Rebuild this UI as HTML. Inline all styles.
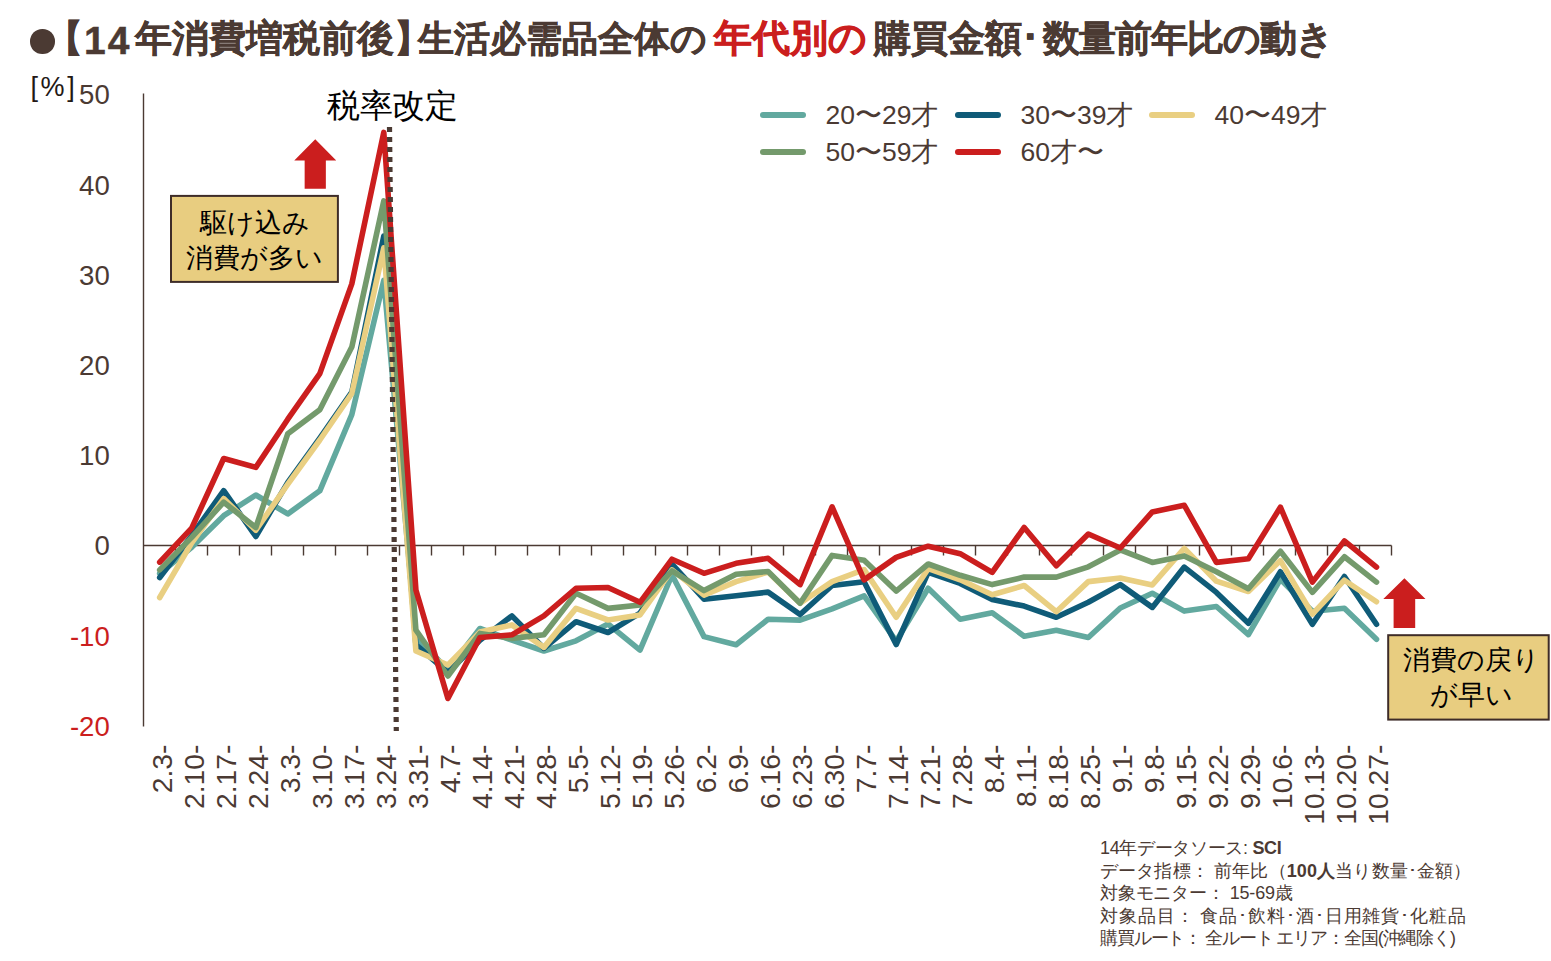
<!DOCTYPE html>
<html><head><meta charset="utf-8"><style>
html,body{margin:0;padding:0;background:#fff;}
body{width:1551px;height:961px;position:relative;overflow:hidden;font-family:"Liberation Sans",sans-serif;}
svg{position:absolute;left:0;top:0;}
svg text{font-family:"Liberation Sans",sans-serif;}
.t{position:absolute;white-space:nowrap;}
.tt{position:absolute;white-space:nowrap;font-size:37px;font-weight:bold;color:#4B3A33;line-height:50px;-webkit-text-stroke:0.45px #4B3A33;}
.tt.r{color:#CB1E1E;font-size:38.3px;-webkit-text-stroke:0.6px #CB1E1E;}
.box{position:absolute;color:#000;font-size:27px;line-height:35px;text-align:center;}
.nt{position:absolute;white-space:nowrap;left:1100px;font-size:18px;line-height:22.5px;color:#4B3A33;}
</style></head><body>
<svg width="1551" height="961" viewBox="0 0 1551 961">
<line x1="143.5" y1="93.5" x2="143.5" y2="726.5" stroke="#4B3A33" stroke-width="1.4"/>
<line x1="143.5" y1="545.5" x2="1391.5" y2="545.5" stroke="#4B3A33" stroke-width="1.4"/>
<path d="M175.5,545.5 V555.5M207.5,545.5 V555.5M239.5,545.5 V555.5M271.5,545.5 V555.5M303.5,545.5 V555.5M335.5,545.5 V555.5M367.5,545.5 V555.5M399.5,545.5 V555.5M431.5,545.5 V555.5M463.5,545.5 V555.5M495.5,545.5 V555.5M527.5,545.5 V555.5M559.5,545.5 V555.5M591.5,545.5 V555.5M623.5,545.5 V555.5M655.5,545.5 V555.5M687.5,545.5 V555.5M719.5,545.5 V555.5M751.5,545.5 V555.5M783.5,545.5 V555.5M815.5,545.5 V555.5M847.5,545.5 V555.5M879.5,545.5 V555.5M911.5,545.5 V555.5M943.5,545.5 V555.5M975.5,545.5 V555.5M1007.5,545.5 V555.5M1039.5,545.5 V555.5M1071.5,545.5 V555.5M1103.5,545.5 V555.5M1135.5,545.5 V555.5M1167.5,545.5 V555.5M1199.5,545.5 V555.5M1231.5,545.5 V555.5M1263.5,545.5 V555.5M1295.5,545.5 V555.5M1327.5,545.5 V555.5M1359.5,545.5 V555.5M1391.5,545.5 V555.5" stroke="#4B3A33" stroke-width="1.4" fill="none"/>
<path d="M159.7,573.5 L191.7,547.3 L223.7,515.7 L255.8,495.0 L287.8,513.9 L319.8,490.8 L351.8,414.7 L383.8,280.3 L415.9,636.6 L447.9,670.0 L479.9,628.5 L511.9,640.2 L543.9,651.0 L576.0,640.8 L608.0,624.0 L640.0,650.1 L672.0,575.0 L704.0,636.6 L736.1,644.7 L768.1,619.2 L800.1,620.1 L832.1,608.9 L864.1,595.8 L896.2,641.1 L928.2,588.3 L960.2,619.2 L992.2,612.7 L1024.2,636.2 L1056.3,630.3 L1088.3,637.5 L1120.3,608.0 L1152.3,593.3 L1184.3,611.1 L1216.4,606.5 L1248.4,634.6 L1280.4,579.3 L1312.4,611.3 L1344.4,608.3 L1376.5,639.3" stroke="#62A99F" stroke-width="5.6" fill="none" stroke-linejoin="round" stroke-linecap="round"/>
<path d="M159.7,577.5 L191.7,535.6 L223.7,490.7 L255.8,536.5 L287.8,482.4 L319.8,438.2 L351.8,392.2 L383.8,236.1 L415.9,644.7 L447.9,672.7 L479.9,640.2 L511.9,615.9 L543.9,648.3 L576.0,621.7 L608.0,632.5 L640.0,613.1 L672.0,564.2 L704.0,599.2 L736.1,595.8 L768.1,592.1 L800.1,614.5 L832.1,585.5 L864.1,581.8 L896.2,644.5 L928.2,572.4 L960.2,583.4 L992.2,599.6 L1024.2,606.1 L1056.3,617.3 L1088.3,602.3 L1120.3,584.6 L1152.3,607.4 L1184.3,567.1 L1216.4,592.4 L1248.4,623.3 L1280.4,571.8 L1312.4,624.3 L1344.4,576.5 L1376.5,624.3" stroke="#0F5B78" stroke-width="5.6" fill="none" stroke-linejoin="round" stroke-linecap="round"/>
<path d="M159.7,597.5 L191.7,542.8 L223.7,498.6 L255.8,530.2 L287.8,484.2 L319.8,440.0 L351.8,393.5 L383.8,247.8 L415.9,651.0 L447.9,665.0 L479.9,632.1 L511.9,624.9 L543.9,647.4 L576.0,608.4 L608.0,620.0 L640.0,615.0 L672.0,569.9 L704.0,595.1 L736.1,581.6 L768.1,572.1 L800.1,603.2 L832.1,581.6 L864.1,569.6 L896.2,617.3 L928.2,568.7 L960.2,579.8 L992.2,594.8 L1024.2,585.5 L1056.3,611.7 L1088.3,581.6 L1120.3,578.0 L1152.3,584.9 L1184.3,548.4 L1216.4,581.2 L1248.4,591.5 L1280.4,560.6 L1312.4,614.1 L1344.4,580.2 L1376.5,601.8" stroke="#E9CF82" stroke-width="5.6" fill="none" stroke-linejoin="round" stroke-linecap="round"/>
<path d="M159.7,569.9 L191.7,537.4 L223.7,502.2 L255.8,527.5 L287.8,433.7 L319.8,409.7 L351.8,347.1 L383.8,200.9 L415.9,630.0 L447.9,676.0 L479.9,633.4 L511.9,638.4 L543.9,634.8 L576.0,593.3 L608.0,608.4 L640.0,605.0 L672.0,570.8 L704.0,590.6 L736.1,574.2 L768.1,571.5 L800.1,603.2 L832.1,555.4 L864.1,560.2 L896.2,591.1 L928.2,564.0 L960.2,575.3 L992.2,584.6 L1024.2,577.1 L1056.3,577.1 L1088.3,566.8 L1120.3,549.9 L1152.3,562.4 L1184.3,555.9 L1216.4,571.8 L1248.4,588.7 L1280.4,551.2 L1312.4,592.4 L1344.4,556.8 L1376.5,582.1" stroke="#749A6C" stroke-width="5.6" fill="none" stroke-linejoin="round" stroke-linecap="round"/>
<path d="M159.7,562.1 L191.7,528.2 L223.7,458.5 L255.8,467.4 L287.8,419.2 L319.8,373.6 L351.8,283.9 L383.8,132.4 L415.9,590.0 L447.9,698.5 L479.9,637.5 L511.9,634.8 L543.9,615.9 L576.0,588.3 L608.0,587.5 L640.0,602.3 L672.0,559.2 L704.0,573.3 L736.1,563.3 L768.1,558.3 L800.1,584.6 L832.1,506.9 L864.1,579.9 L896.2,557.4 L928.2,546.2 L960.2,553.7 L992.2,572.4 L1024.2,527.5 L1056.3,565.8 L1088.3,534.0 L1120.3,548.0 L1152.3,511.9 L1184.3,505.3 L1216.4,562.4 L1248.4,558.7 L1280.4,507.2 L1312.4,582.1 L1344.4,540.9 L1376.5,567.1" stroke="#CB1E1E" stroke-width="5.6" fill="none" stroke-linejoin="round" stroke-linecap="round"/>
<line x1="389.5" y1="127" x2="396.3" y2="731" stroke="#4B3A33" stroke-width="5.2" stroke-dasharray="5 5"/>
<path d="M315.25,139.25 L336.25,160.5 L325.85,160.5 L325.85,188.75 L304.65,188.75 L304.65,160.5 L294.25,160.5 Z" fill="#CB1E1E"/>
<path d="M1404.4,578.3 L1425.5,598.9 L1415.2,598.9 L1415.2,628 L1393.6000000000001,628 L1393.6000000000001,598.9 L1383.3000000000002,598.9 Z" fill="#CB1E1E"/>
<rect x="171" y="195.9" width="166.9" height="86" fill="#E8CD80" stroke="#3E2C28" stroke-width="2"/>
<rect x="1388.2" y="635.2" width="160.5" height="84.4" fill="#E8CD80" stroke="#3E2C28" stroke-width="2"/>
<line x1="763" y1="115" x2="803" y2="115" stroke="#62A99F" stroke-width="6" stroke-linecap="round"/>
<line x1="958" y1="115" x2="998" y2="115" stroke="#0F5B78" stroke-width="6" stroke-linecap="round"/>
<line x1="1152" y1="115" x2="1192" y2="115" stroke="#E9CF82" stroke-width="6" stroke-linecap="round"/>
<line x1="763" y1="152" x2="803" y2="152" stroke="#749A6C" stroke-width="6" stroke-linecap="round"/>
<line x1="958" y1="152" x2="998" y2="152" stroke="#CB1E1E" stroke-width="6" stroke-linecap="round"/>
<text x="109.8" y="735.7" text-anchor="end" font-size="27.6" fill="#CB1E1E">-20</text>
<text x="109.8" y="645.5" text-anchor="end" font-size="27.6" fill="#CB1E1E">-10</text>
<text x="109.8" y="555.3" text-anchor="end" font-size="27.6" fill="#4B3A33">0</text>
<text x="109.8" y="465.1" text-anchor="end" font-size="27.6" fill="#4B3A33">10</text>
<text x="109.8" y="374.9" text-anchor="end" font-size="27.6" fill="#4B3A33">20</text>
<text x="109.8" y="284.7" text-anchor="end" font-size="27.6" fill="#4B3A33">30</text>
<text x="109.8" y="194.5" text-anchor="end" font-size="27.6" fill="#4B3A33">40</text>
<text x="109.8" y="104.3" text-anchor="end" font-size="27.6" fill="#4B3A33">50</text>
<text x="30.5" y="96" font-size="27" letter-spacing="2.6" fill="#231815">[%]</text>
<text transform="translate(171.5,744.5) rotate(-90)" text-anchor="end" font-size="28.3" fill="#4B3A33">2.3-</text>
<text transform="translate(203.5,744.5) rotate(-90)" text-anchor="end" font-size="28.3" fill="#4B3A33">2.10-</text>
<text transform="translate(235.5,744.5) rotate(-90)" text-anchor="end" font-size="28.3" fill="#4B3A33">2.17-</text>
<text transform="translate(267.6,744.5) rotate(-90)" text-anchor="end" font-size="28.3" fill="#4B3A33">2.24-</text>
<text transform="translate(299.6,744.5) rotate(-90)" text-anchor="end" font-size="28.3" fill="#4B3A33">3.3-</text>
<text transform="translate(331.6,744.5) rotate(-90)" text-anchor="end" font-size="28.3" fill="#4B3A33">3.10-</text>
<text transform="translate(363.6,744.5) rotate(-90)" text-anchor="end" font-size="28.3" fill="#4B3A33">3.17-</text>
<text transform="translate(395.6,744.5) rotate(-90)" text-anchor="end" font-size="28.3" fill="#4B3A33">3.24-</text>
<text transform="translate(427.7,744.5) rotate(-90)" text-anchor="end" font-size="28.3" fill="#4B3A33">3.31-</text>
<text transform="translate(459.7,744.5) rotate(-90)" text-anchor="end" font-size="28.3" fill="#4B3A33">4.7-</text>
<text transform="translate(491.7,744.5) rotate(-90)" text-anchor="end" font-size="28.3" fill="#4B3A33">4.14-</text>
<text transform="translate(523.7,744.5) rotate(-90)" text-anchor="end" font-size="28.3" fill="#4B3A33">4.21-</text>
<text transform="translate(555.7,744.5) rotate(-90)" text-anchor="end" font-size="28.3" fill="#4B3A33">4.28-</text>
<text transform="translate(587.8,744.5) rotate(-90)" text-anchor="end" font-size="28.3" fill="#4B3A33">5.5-</text>
<text transform="translate(619.8,744.5) rotate(-90)" text-anchor="end" font-size="28.3" fill="#4B3A33">5.12-</text>
<text transform="translate(651.8,744.5) rotate(-90)" text-anchor="end" font-size="28.3" fill="#4B3A33">5.19-</text>
<text transform="translate(683.8,744.5) rotate(-90)" text-anchor="end" font-size="28.3" fill="#4B3A33">5.26-</text>
<text transform="translate(715.8,744.5) rotate(-90)" text-anchor="end" font-size="28.3" fill="#4B3A33">6.2-</text>
<text transform="translate(747.9,744.5) rotate(-90)" text-anchor="end" font-size="28.3" fill="#4B3A33">6.9-</text>
<text transform="translate(779.9,744.5) rotate(-90)" text-anchor="end" font-size="28.3" fill="#4B3A33">6.16-</text>
<text transform="translate(811.9,744.5) rotate(-90)" text-anchor="end" font-size="28.3" fill="#4B3A33">6.23-</text>
<text transform="translate(843.9,744.5) rotate(-90)" text-anchor="end" font-size="28.3" fill="#4B3A33">6.30-</text>
<text transform="translate(875.9,744.5) rotate(-90)" text-anchor="end" font-size="28.3" fill="#4B3A33">7.7-</text>
<text transform="translate(908.0,744.5) rotate(-90)" text-anchor="end" font-size="28.3" fill="#4B3A33">7.14-</text>
<text transform="translate(940.0,744.5) rotate(-90)" text-anchor="end" font-size="28.3" fill="#4B3A33">7.21-</text>
<text transform="translate(972.0,744.5) rotate(-90)" text-anchor="end" font-size="28.3" fill="#4B3A33">7.28-</text>
<text transform="translate(1004.0,744.5) rotate(-90)" text-anchor="end" font-size="28.3" fill="#4B3A33">8.4-</text>
<text transform="translate(1036.0,744.5) rotate(-90)" text-anchor="end" font-size="28.3" fill="#4B3A33">8.11-</text>
<text transform="translate(1068.1,744.5) rotate(-90)" text-anchor="end" font-size="28.3" fill="#4B3A33">8.18-</text>
<text transform="translate(1100.1,744.5) rotate(-90)" text-anchor="end" font-size="28.3" fill="#4B3A33">8.25-</text>
<text transform="translate(1132.1,744.5) rotate(-90)" text-anchor="end" font-size="28.3" fill="#4B3A33">9.1-</text>
<text transform="translate(1164.1,744.5) rotate(-90)" text-anchor="end" font-size="28.3" fill="#4B3A33">9.8-</text>
<text transform="translate(1196.1,744.5) rotate(-90)" text-anchor="end" font-size="28.3" fill="#4B3A33">9.15-</text>
<text transform="translate(1228.2,744.5) rotate(-90)" text-anchor="end" font-size="28.3" fill="#4B3A33">9.22-</text>
<text transform="translate(1260.2,744.5) rotate(-90)" text-anchor="end" font-size="28.3" fill="#4B3A33">9.29-</text>
<text transform="translate(1292.2,744.5) rotate(-90)" text-anchor="end" font-size="28.3" fill="#4B3A33">10.6-</text>
<text transform="translate(1324.2,744.5) rotate(-90)" text-anchor="end" font-size="28.3" fill="#4B3A33">10.13-</text>
<text transform="translate(1356.2,744.5) rotate(-90)" text-anchor="end" font-size="28.3" fill="#4B3A33">10.20-</text>
<text transform="translate(1388.3,744.5) rotate(-90)" text-anchor="end" font-size="28.3" fill="#4B3A33">10.27-</text>
<text x="825.5" y="124.3" font-size="26.5" fill="#4B3A33">20〜29才</text>
<text x="1020.5" y="124.3" font-size="26.5" fill="#4B3A33">30〜39才</text>
<text x="1214.5" y="124.3" font-size="26.5" fill="#4B3A33">40〜49才</text>
<text x="825.5" y="161.3" font-size="26.5" fill="#4B3A33">50〜59才</text>
<text x="1020.5" y="161.3" font-size="26.5" fill="#4B3A33">60才〜</text>
</svg>
<div style="position:absolute;left:30px;top:29px;width:24.5px;height:24.5px;border-radius:50%;background:#4B3A33;"></div>
<div class="tt" style="left:45.7px;top:14px;">【</div>
<div class="tt" style="left:84px;top:15.5px;font-family:'Liberation Sans',sans-serif;font-size:39px;letter-spacing:2px;">14</div>
<div class="tt" style="left:135px;top:14px;">年消費増税前後</div>
<div class="tt" style="left:393.5px;top:14px;">】</div>
<div class="tt" style="left:418px;top:14px;font-size:36px;">生活必需品全体の</div>
<div class="tt r" style="left:714px;top:13px;">年代別の</div>
<div class="tt" style="left:874px;top:14px;font-size:36.6px;">購買金額</div>
<div class="tt" style="left:1020.5px;top:14px;">･</div>
<div class="tt" style="left:1043px;top:14px;letter-spacing:-1px">数量前年比の動き</div>
<div class="t" style="left:327px;top:84px;font-size:33px;letter-spacing:-0.3px;color:#000;">税率改定</div>
<div class="box" style="left:171px;top:205.5px;width:167px;">駆け込み<br>消費が多い</div>
<div class="box" style="left:1391px;top:643px;width:161px;">消費の戻り<br>が早い</div>
<div class="nt" style="top:837px;letter-spacing:-0.33px">14年データソース: <b>SCI</b></div>
<div class="nt" style="top:859.5px;letter-spacing:0.15px">データ指標： 前年比（<b>100人</b>当り数量･金額）</div>
<div class="nt" style="top:882px;letter-spacing:-0.17px">対象モニター： 15-69歳</div>
<div class="nt" style="top:904.5px;letter-spacing:0.9px">対象品目： 食品･飲料･酒･日用雑貨･化粧品</div>
<div class="nt" style="top:927px;letter-spacing:-1.13px">購買ルート： 全ルート エリア：全国(沖縄除く)</div>
</body></html>
